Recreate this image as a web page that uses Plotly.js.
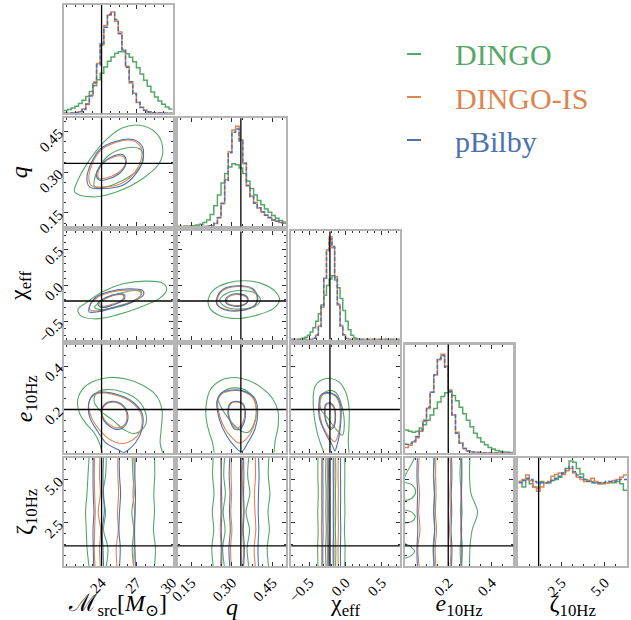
<!DOCTYPE html>
<html><head><meta charset="utf-8">
<script src="https://cdn.plot.ly/plotly-3.0.1.min.js"></script>
<style>html,body{margin:0;padding:0;background:#fff}#chart{width:631px;height:620px}</style>
</head><body><div id="chart"></div>
<script>
// ---------------- parameters ----------------
const paramLabels = ['ℳ<sub>src</sub>[<i>M</i><sub>⊙</sub>]', '<i>q</i>', 'χ<sub>eff</sub>', '<i>e</i><sub>10Hz</sub>', 'ζ<sub>10Hz</sub>'];
const paramRanges = [[20.8, 30.05], [0.1, 0.5], [-0.75, 0.75], [0, 0.5], [0, 6.2832]];
const truthValues = [24.0, 0.333, -0.215, 0.2, 1.17];
const tickVals = [[24, 27, 30], [0.15, 0.30, 0.45], [-0.5, 0, 0.5], [0.2, 0.4], [2.5, 5.0]];
const tickText = [['24', '27', '30'], ['0.15', '0.30', '0.45'], ['−0.5', '0.0', '0.5'], ['0.2', '0.4'], ['2.5', '5.0']];
const minorStep = [0.75, 0.0375, 0.1, 0.05, 0.625];
const seriesNames = ['DINGO', 'DINGO-IS', 'pBilby'];
const seriesColors = ['#55a868', '#dd8452', '#4c72b0'];

// ---------------- 1D histograms (relative heights) ----------------
const histMc_DINGO = [0.025,0.035,0.048,0.065,0.09,0.12,0.155,0.20,0.254,0.31,0.37,0.426,0.48,0.52,0.553,0.568,0.568,0.55,0.518,0.475,0.42,0.363,0.304,0.248,0.196,0.15,0.112,0.082,0.057,0.039];
const histMc_DINGOIS = [0,0,0.002,0.006,0.014,0.038,0.08,0.165,0.275,0.46,0.63,0.81,0.905,0.935,0.85,0.75,0.58,0.435,0.28,0.185,0.098,0.056,0.025,0.013,0.005,0.002,0.001,0,0,0];
const histMc_pBilby = [0,0,0.001,0.005,0.016,0.035,0.085,0.158,0.285,0.445,0.645,0.795,0.915,0.925,0.865,0.735,0.59,0.425,0.29,0.178,0.102,0.052,0.027,0.011,0.005,0.002,0.001,0,0,0];

const histQ_DINGO = [0,0,0.002,0.004,0.007,0.012,0.02,0.035,0.06,0.11,0.19,0.29,0.4,0.49,0.55,0.58,0.57,0.54,0.49,0.42,0.35,0.29,0.24,0.2,0.16,0.13,0.1,0.075,0.055,0.04];
const histQ_DINGOIS = [0,0,0,0,0,0,0,0,0.001,0.007,0.026,0.083,0.21,0.43,0.69,0.89,0.925,0.8,0.58,0.38,0.28,0.22,0.17,0.135,0.105,0.08,0.062,0.048,0.036,0.028];
const histQ_pBilby = [0,0,0,0,0,0,0,0,0.001,0.006,0.028,0.08,0.215,0.425,0.68,0.87,0.9,0.79,0.585,0.375,0.275,0.215,0.172,0.132,0.104,0.082,0.06,0.047,0.037,0.027];

const histChi_DINGO = [0,0,0,0.005,0.012,0.022,0.04,0.07,0.11,0.17,0.24,0.32,0.41,0.5,0.56,0.59,0.55,0.48,0.38,0.27,0.17,0.09,0.04,0.015,0.005,0,0,0,0,0,0,0,0,0,0,0,0,0,0,0];
const histChi_DINGOIS = [0,0,0,0,0,0,0,0.002,0.01,0.04,0.125,0.3,0.57,0.83,0.95,0.85,0.58,0.32,0.13,0.044,0.011,0.002,0,0,0,0,0,0,0,0,0,0,0,0,0,0,0,0,0,0];
const histChi_pBilby = [0,0,0,0,0,0,0,0.002,0.012,0.042,0.12,0.31,0.56,0.82,0.93,0.86,0.57,0.33,0.125,0.045,0.01,0.002,0,0,0,0,0,0,0,0,0,0,0,0,0,0,0,0,0,0];

const histE_DINGO = [0.21,0.2,0.19,0.2,0.23,0.26,0.3,0.35,0.41,0.47,0.52,0.555,0.56,0.53,0.48,0.42,0.36,0.3,0.24,0.18,0.14,0.1,0.075,0.05,0.034,0.022,0.014,0.008,0.005,0.003];
const histE_DINGOIS = [0.05,0.07,0.10,0.14,0.2,0.29,0.41,0.56,0.72,0.86,0.91,0.8,0.58,0.35,0.19,0.09,0.04,0.018,0.008,0.004,0.002,0.001,0,0,0,0,0,0,0,0];
const histE_pBilby = [0.08,0.085,0.11,0.15,0.21,0.3,0.42,0.56,0.72,0.87,0.9,0.79,0.57,0.35,0.18,0.09,0.04,0.017,0.008,0.004,0.002,0.001,0,0,0,0,0,0,0,0];

const histZeta_DINGO = [0.78,0.73,0.8,0.76,0.73,0.72,0.78,0.77,0.77,0.79,0.8,0.82,0.86,0.9,0.97,0.96,0.9,0.85,0.8,0.79,0.78,0.77,0.76,0.76,0.77,0.77,0.77,0.78,0.76,0.7];
const histZeta_DINGOIS = [0.78,0.8,0.84,0.79,0.73,0.69,0.73,0.77,0.78,0.83,0.845,0.86,0.845,0.88,0.9,0.86,0.82,0.8,0.78,0.79,0.81,0.78,0.76,0.77,0.77,0.78,0.79,0.8,0.82,0.84];
const histZeta_pBilby = [0.77,0.79,0.81,0.8,0.78,0.77,0.77,0.77,0.77,0.79,0.81,0.83,0.86,0.9,0.92,0.87,0.84,0.82,0.8,0.78,0.77,0.77,0.77,0.77,0.78,0.78,0.78,0.79,0.8,0.8];

// ---------------- 2D contours: [x values], [y values] (outer ≈ 86%, inner ≈ 39%) ----------------
// Mc vs q
const McQ_DINGO_out = [[21.71,23.27,25.25,27.51,28.93,29.21,28.64,27.23,25.81,24.40,22.98,21.99],[0.227,0.209,0.227,0.277,0.334,0.39,0.446,0.474,0.465,0.421,0.346,0.271]];
const McQ_DINGO_in = [[23.35,23.83,24.68,26.10,27.23,27.57,27.09,25.81,24.12,23.41],[0.261,0.321,0.365,0.39,0.387,0.352,0.309,0.271,0.244,0.246]];
const McQ_DINGOIS_out = [[22.93,23.83,25.25,26.67,27.37,27.37,26.81,25.67,24.12,23.12],[0.29,0.377,0.411,0.417,0.39,0.346,0.299,0.259,0.246,0.252]];
const McQ_DINGOIS_in = [[23.69,24.12,24.96,25.81,26.04,25.53,24.54,23.78],[0.296,0.334,0.356,0.359,0.334,0.302,0.281,0.277]];
const McQ_pBilby_out = [[22.76,23.83,25.25,26.67,27.46,27.51,26.95,25.81,24.12,22.98],[0.284,0.384,0.415,0.421,0.396,0.346,0.296,0.252,0.24,0.246]];
const McQ_pBilby_in = [[23.55,23.97,24.96,25.81,26.10,25.67,24.68,23.83],[0.29,0.327,0.359,0.365,0.34,0.302,0.277,0.271]];
// Mc vs chi_eff
const McChi_DINGO_out = [[21.99,22.70,24.12,25.81,27.8,29.21,29.55,28.93,27.23,25.25,23.55,22.28],[-0.331,-0.238,-0.084,0.024,0.061,0.033,-0.061,-0.178,-0.304,-0.411,-0.462,-0.425]];
const McChi_DINGO_in = [[23.41,24.40,25.81,27.09,27.37,26.67,25.25,23.83],[-0.303,-0.177,-0.098,-0.07,-0.117,-0.224,-0.303,-0.331]];
const McChi_DINGOIS_out = [[22.98,23.55,24.68,26.38,27.37,27.37,26.52,24.96,23.69,23.04],[-0.294,-0.177,-0.098,-0.061,-0.079,-0.135,-0.224,-0.303,-0.35,-0.341]];
const McChi_DINGOIS_in = [[23.83,24.54,25.39,25.87,25.76,24.96,24.06],[-0.238,-0.163,-0.126,-0.14,-0.2,-0.257,-0.285]];
const McChi_pBilby_out = [[22.94,23.41,24.68,26.38,27.51,27.57,26.67,25.11,23.69,22.93],[-0.303,-0.177,-0.084,-0.046,-0.07,-0.13,-0.224,-0.303,-0.364,-0.364]];
const McChi_pBilby_in = [[23.69,24.40,25.39,25.96,25.87,24.96,23.97],[-0.247,-0.163,-0.117,-0.131,-0.2,-0.271,-0.303]];
// Mc vs e
const McE_DINGO_out = [[24.06,23.83,23.41,22.56,22.08,21.99,22.56,23.55,24.68,26.10,27.51,28.64,29.15,29.07,28.99,29.21],[0.0,0.043,0.089,0.143,0.189,0.251,0.304,0.335,0.348,0.341,0.312,0.266,0.197,0.105,0.043,0.0]];
const McE_DINGO_in = [[23.35,23.69,24.40,25.81,27.09,27.80,27.66,26.81,25.96,24.96,23.83],[0.243,0.281,0.292,0.281,0.243,0.174,0.12,0.089,0.105,0.151,0.197]];
const McE_DINGOIS_out = [[22.93,23.49,24.17,25.53,26.61,27.37,27.37,26.81,25.81,24.82,23.97,23.12],[0.235,0.271,0.277,0.261,0.231,0.178,0.112,0.066,0.043,0.058,0.097,0.166]];
const McE_DINGOIS_in = [[24.03,24.34,25.02,25.81,26.15,25.98,25.39,24.74,24.23],[0.189,0.223,0.234,0.215,0.174,0.132,0.115,0.128,0.154]];
const McE_pBilby_out = [[22.94,23.41,24.12,25.53,26.67,27.46,27.46,26.95,26.24,25.87,25.39,24.40,23.69,22.98],[0.235,0.274,0.281,0.266,0.235,0.181,0.112,0.051,0.012,0.001,0.015,0.045,0.097,0.166]];
const McE_pBilby_in = [[23.97,24.26,24.96,25.81,26.24,26.04,25.39,24.68,24.17],[0.189,0.224,0.238,0.22,0.174,0.128,0.108,0.123,0.151]];
// q vs chi_eff
const QChi_DINGO_out = [[0.2125,0.233,0.282,0.343,0.405,0.46,0.4755,0.4535,0.392,0.319,0.252,0.219],[-0.2,-0.06,0.033,0.066,0.033,-0.084,-0.2,-0.317,-0.411,-0.458,-0.411,-0.317]];
const QChi_DINGO_in = [[0.2553,0.282,0.331,0.386,0.405,0.386,0.331,0.276],[-0.2,-0.107,-0.07,-0.107,-0.2,-0.285,-0.327,-0.294]];
const QChi_DINGOIS_out = [[0.2456,0.2664,0.319,0.3716,0.392,0.384,0.331,0.2725,0.248],[-0.2,-0.07,-0.014,-0.047,-0.154,-0.271,-0.341,-0.327,-0.266]];
const QChi_DINGOIS_in = [[0.28,0.298,0.3275,0.353,0.356,0.335,0.3,0.282],[-0.2,-0.14,-0.126,-0.163,-0.224,-0.271,-0.271,-0.243]];
const QChi_pBilby_out = [[0.243,0.264,0.319,0.374,0.395,0.386,0.331,0.27,0.246],[-0.2,-0.06,-0.004,-0.037,-0.154,-0.271,-0.35,-0.332,-0.271]];
const QChi_pBilby_in = [[0.276,0.2945,0.325,0.356,0.358,0.337,0.3,0.28],[-0.2,-0.13,-0.116,-0.154,-0.224,-0.28,-0.28,-0.247]];
// q vs e
const QE_DINGO_out = [[0.235,0.228,0.215,0.205,0.205,0.22,0.26,0.31,0.36,0.41,0.45,0.47,0.47,0.46,0.455],[0.0,0.05,0.1,0.16,0.22,0.29,0.335,0.348,0.335,0.3,0.25,0.19,0.12,0.06,0.0]];
const QE_DINGO_in = [[0.25,0.27,0.31,0.35,0.38,0.39,0.38,0.36,0.335,0.3,0.265],[0.25,0.285,0.3,0.29,0.25,0.19,0.13,0.095,0.1,0.14,0.2]];
const QE_DINGOIS_out = [[0.248,0.263,0.3,0.343,0.38,0.39,0.378,0.35,0.325,0.3,0.275,0.255],[0.24,0.272,0.287,0.282,0.248,0.18,0.115,0.06,0.045,0.07,0.11,0.17]];
const QE_DINGOIS_in = [[0.288,0.297,0.315,0.338,0.347,0.342,0.328,0.31,0.296],[0.2,0.228,0.235,0.226,0.19,0.145,0.118,0.118,0.145]];
const QE_pBilby_out = [[0.245,0.26,0.3,0.345,0.385,0.395,0.385,0.36,0.335,0.31,0.28,0.255],[0.24,0.275,0.29,0.285,0.25,0.18,0.11,0.05,0.005,0.03,0.08,0.15]];
const QE_pBilby_in = [[0.285,0.295,0.315,0.34,0.35,0.345,0.33,0.31,0.295],[0.2,0.23,0.238,0.228,0.19,0.14,0.11,0.11,0.14]];
// chi_eff vs e
const ChiE_DINGO_out = [[-0.298,-0.399,-0.446,-0.413,-0.321,-0.206,-0.09,0.002,0.048,0.048,0.039,0.048],[0.0,0.105,0.258,0.312,0.338,0.343,0.328,0.281,0.212,0.12,0.058,0.0]];
const ChiE_DINGO_in = [[-0.335,-0.344,-0.252,-0.137,-0.067,-0.021,-0.021,-0.044,-0.137,-0.252],[0.197,0.251,0.286,0.28,0.235,0.166,0.104,0.081,0.112,0.163]];
const ChiE_DINGOIS_out = [[-0.358,-0.335,-0.252,-0.145,-0.081,-0.076,-0.104,-0.145,-0.183,-0.275,-0.349],[0.228,0.263,0.274,0.263,0.22,0.135,0.081,0.051,0.058,0.097,0.163]];
const ChiE_DINGOIS_in = [[-0.279,-0.266,-0.215,-0.169,-0.145,-0.169,-0.206,-0.247,-0.275],[0.197,0.221,0.226,0.212,0.166,0.124,0.115,0.132,0.163]];
const ChiE_pBilby_out = [[-0.367,-0.344,-0.252,-0.137,-0.067,-0.067,-0.09,-0.123,-0.145,-0.183,-0.275,-0.358],[0.228,0.266,0.278,0.266,0.22,0.135,0.074,0.028,0.009,0.035,0.089,0.158]];
const ChiE_pBilby_in = [[-0.289,-0.275,-0.215,-0.16,-0.137,-0.16,-0.206,-0.252,-0.284],[0.197,0.224,0.231,0.215,0.166,0.12,0.108,0.128,0.163]];

// zeta row: contour boundaries are near-vertical bands; x values sampled at these zeta values
const zetaRows = [0, 1.05, 2.09, 3.14, 4.19, 5.24, 6.28];
const McZeta_DINGO = [[22.93,22.76,22.70,22.64,22.76,22.84,22.93],[28.51,28.59,28.42,28.51,28.45,28.53,28.51],[24.40,24.54,24.17,24.34,24.12,24.34,24.40],[26.72,26.61,26.74,26.58,26.78,26.67,26.61]];
const McZeta_DINGOIS = [[23.44,23.38,23.41,23.46,23.41,23.38,23.41],[26.72,26.78,26.74,26.81,26.67,26.78,26.74],[23.89,23.83,23.92,23.72,23.89,23.83,23.86],[25.31,25.25,25.42,25.36,25.45,25.39,25.39]];
const McZeta_pBilby = [[23.32,23.29,23.27,23.35,23.29,23.27,23.29],[26.89,26.84,26.81,26.86,26.89,26.84,26.86],[24.17,24.12,24.06,24.23,24.17,24.12,24.17],[25.53,25.59,25.48,25.53,25.62,25.53,25.5]];
const QZeta_DINGO = [[0.231,0.226,0.233,0.228,0.234,0.229,0.231],[0.435,0.43,0.438,0.433,0.44,0.434,0.436],[0.272,0.266,0.275,0.268,0.276,0.27,0.273],[0.362,0.356,0.365,0.352,0.366,0.358,0.362]];
const QZeta_DINGOIS = [[0.258,0.26,0.257,0.259,0.258,0.26,0.258],[0.386,0.382,0.388,0.385,0.383,0.387,0.386],[0.298,0.295,0.3,0.296,0.299,0.297,0.298],[0.34,0.343,0.339,0.342,0.34,0.338,0.341]];
const QZeta_pBilby = [[0.262,0.263,0.261,0.263,0.262,0.261,0.262],[0.398,0.396,0.399,0.397,0.398,0.4,0.398],[0.292,0.289,0.294,0.291,0.293,0.29,0.292],[0.343,0.346,0.342,0.345,0.343,0.344,0.343]];
const ChiZeta_DINGO = [[-0.38,-0.385,-0.378,-0.383,-0.376,-0.382,-0.38],[-0.011,-0.006,-0.014,-0.008,-0.012,-0.009,-0.011],[-0.27,-0.275,-0.266,-0.272,-0.268,-0.274,-0.27],[-0.137,-0.133,-0.14,-0.135,-0.139,-0.134,-0.137]];
const ChiZeta_DINGOIS = [[-0.33,-0.328,-0.332,-0.329,-0.331,-0.33,-0.33],[-0.1,-0.103,-0.098,-0.101,-0.099,-0.102,-0.1],[-0.252,-0.25,-0.254,-0.251,-0.253,-0.25,-0.252],[-0.16,-0.158,-0.162,-0.159,-0.161,-0.158,-0.16]];
const ChiZeta_pBilby = [[-0.312,-0.314,-0.31,-0.313,-0.311,-0.313,-0.312],[-0.068,-0.07,-0.066,-0.069,-0.067,-0.069,-0.068],[-0.238,-0.236,-0.24,-0.237,-0.239,-0.236,-0.238],[-0.169,-0.171,-0.167,-0.17,-0.168,-0.17,-0.169]];
const EZeta_DINGO = [[0.298,0.3,0.31,0.335,0.305,0.298,0.3],[0.135,0.13,0.138,0.133,0.137,0.132,0.135],[0.258,0.255,0.262,0.256,0.26,0.254,0.258]];
const EZeta_DINGOIS = [[0.066,0.06,0.07,0.064,0.068,0.062,0.066],[0.259,0.262,0.257,0.26,0.258,0.261,0.259],[0.143,0.14,0.146,0.141,0.144,0.142,0.143],[0.209,0.212,0.206,0.21,0.208,0.211,0.209]];
const EZeta_pBilby = [[0.058,0.056,0.06,0.057,0.059,0.056,0.058],[0.262,0.264,0.26,0.263,0.261,0.263,0.262],[0.135,0.133,0.137,0.134,0.136,0.133,0.135],[0.215,0.217,0.213,0.216,0.214,0.217,0.215]];
// small DINGO islands at the e = 0 edge
const EZeta_DINGO_islands = [
  [[0.045,0.03,0.012,0.0],[6.28,5.9,5.5,5.2]],
  [[0,0.035,0.05,0.035,0],[4.85,4.7,4.35,3.95,3.8]],
  [[0,0.035,0.048,0.035,0],[3.25,3.1,2.85,2.6,2.5]],
  [[0,0.03,0.045,0.03,0],[1.3,1.1,0.85,0.6,0.45]]
];

// ---------------- layout geometry ----------------
const W = 631, H = 620, ML = 64, MR = 4, MT = 5, MB = 54, GAP = 5;
const PW = W - ML - MR, PH = H - MT - MB;
const cw = (PW - 4 * GAP) / 5, ch = (PH - 4 * GAP) / 5;
const xdom = c => [c * (cw + GAP) / PW, (c * (cw + GAP) + cw) / PW];
const ydom = r => [1 - (r * (ch + GAP) + ch) / PH, 1 - r * (ch + GAP) / PH];
const px2x = p => (p - ML) / PW;
const px2y = p => 1 - (p - MT) / PH;

const panelIndex = {};
let kk = 0;
for (let r = 0; r < 5; r++) for (let c = 0; c <= r; c++) { kk++; panelIndex[r + ',' + c] = kk; }
const sfx = k => (k === 1 ? '' : String(k));

const traces = [];
const shapes = [];
function addHist(r, vals, color, dash) {
  const k = panelIndex[r + ',' + r], rg = paramRanges[r], n = vals.length, w = (rg[1] - rg[0]) / n;
  const x = [], y = [];
  for (let i = 0; i <= n; i++) { x.push(rg[0] + i * w); y.push(vals[Math.min(i, n - 1)]); }
  traces.push({type: 'scatter', mode: 'lines', x, y, xaxis: 'x' + sfx(k), yaxis: 'y' + sfx(k),
    line: {color, width: 1.5, shape: 'hv', dash: dash || 'solid'}, hoverinfo: 'skip', showlegend: false});
}
function addCurve(r, c, pts, color, closed) {
  const k = panelIndex[r + ',' + c];
  const x = pts[0].slice(), y = pts[1].slice();
  if (closed) { x.push(x[0]); y.push(y[0]); }
  traces.push({type: 'scatter', mode: 'lines', x, y, xaxis: 'x' + sfx(k), yaxis: 'y' + sfx(k),
    line: {color, width: 1.1, shape: 'spline', smoothing: 1}, hoverinfo: 'skip', showlegend: false});
}
function addZetaLines(c, sets, color) {
  sets.forEach(xs => addCurve(4, c, [xs, zetaRows], color, false));
}

// diagonal histograms
const histSets = [
  [histMc_DINGO, histMc_DINGOIS, histMc_pBilby],
  [histQ_DINGO, histQ_DINGOIS, histQ_pBilby],
  [histChi_DINGO, histChi_DINGOIS, histChi_pBilby],
  [histE_DINGO, histE_DINGOIS, histE_pBilby],
  [histZeta_DINGO, histZeta_DINGOIS, histZeta_pBilby]
];
histSets.forEach((set, r) => {
  addHist(r, set[0], seriesColors[0]);
  addHist(r, set[1], seriesColors[1]);
  addHist(r, set[2], seriesColors[2], '4px,2px');
});

// 2D contours
const contourPanels = [
  [1, 0, [McQ_DINGO_out, McQ_DINGO_in], [McQ_DINGOIS_out, McQ_DINGOIS_in], [McQ_pBilby_out, McQ_pBilby_in], true],
  [2, 0, [McChi_DINGO_out, McChi_DINGO_in], [McChi_DINGOIS_out, McChi_DINGOIS_in], [McChi_pBilby_out, McChi_pBilby_in], true],
  [3, 0, [McE_DINGO_out, McE_DINGO_in], [McE_DINGOIS_out, McE_DINGOIS_in], [McE_pBilby_out, McE_pBilby_in], false],
  [2, 1, [QChi_DINGO_out, QChi_DINGO_in], [QChi_DINGOIS_out, QChi_DINGOIS_in], [QChi_pBilby_out, QChi_pBilby_in], true],
  [3, 1, [QE_DINGO_out, QE_DINGO_in], [QE_DINGOIS_out, QE_DINGOIS_in], [QE_pBilby_out, QE_pBilby_in], false],
  [3, 2, [ChiE_DINGO_out, ChiE_DINGO_in], [ChiE_DINGOIS_out, ChiE_DINGOIS_in], [ChiE_pBilby_out, ChiE_pBilby_in], false]
];
contourPanels.forEach(([r, c, g, o, b, greenOuterClosed]) => {
  addCurve(r, c, g[0], seriesColors[0], greenOuterClosed);
  addCurve(r, c, g[1], seriesColors[0], true);
  addCurve(r, c, o[0], seriesColors[1], true);
  addCurve(r, c, o[1], seriesColors[1], true);
  addCurve(r, c, b[0], seriesColors[2], true);
  addCurve(r, c, b[1], seriesColors[2], true);
});
addZetaLines(0, McZeta_DINGO, seriesColors[0]);
addZetaLines(0, McZeta_DINGOIS, seriesColors[1]);
addZetaLines(0, McZeta_pBilby, seriesColors[2]);
addZetaLines(1, QZeta_DINGO, seriesColors[0]);
addZetaLines(1, QZeta_DINGOIS, seriesColors[1]);
addZetaLines(1, QZeta_pBilby, seriesColors[2]);
addZetaLines(2, ChiZeta_DINGO, seriesColors[0]);
addZetaLines(2, ChiZeta_DINGOIS, seriesColors[1]);
addZetaLines(2, ChiZeta_pBilby, seriesColors[2]);
addZetaLines(3, EZeta_DINGO, seriesColors[0]);
EZeta_DINGO_islands.forEach(p => addCurve(4, 3, p, seriesColors[0], false));
addZetaLines(3, EZeta_DINGOIS, seriesColors[1]);
addZetaLines(3, EZeta_pBilby, seriesColors[2]);

// ---------------- axes ----------------
const serif = 'Liberation Serif, DejaVu Serif, serif';
const layout = {
  width: W, height: H, autosize: false,
  margin: {l: ML, r: MR, t: MT, b: MB, pad: 0},
  paper_bgcolor: '#fff', plot_bgcolor: '#fff',
  showlegend: false, font: {family: serif, color: '#000'},
  shapes, annotations: []
};
for (let r = 0; r < 5; r++) for (let c = 0; c <= r; c++) {
  const k = panelIndex[r + ',' + c];
  const base = {showline: true, linecolor: '#b5b5b5', linewidth: 2.2, showgrid: false, zeroline: false,
    ticks: 'inside', ticklen: 4, tickwidth: 1, tickcolor: '#333', mirror: 'ticks',
    tickfont: {family: serif, size: 15, color: '#000'}, tickangle: -45, fixedrange: true};
  const xa = Object.assign({}, base, {
    domain: xdom(c), range: paramRanges[c], anchor: 'y' + sfx(k),
    tickmode: 'array', tickvals: tickVals[c], ticktext: tickText[c], showticklabels: r === 4,
    minor: {ticks: 'inside', ticklen: 2, tickcolor: '#333', tickmode: 'linear', tick0: tickVals[c][0], dtick: minorStep[c]}
  });
  if (r === 4) xa.title = {text: paramLabels[c], font: {family: serif, size: 24, color: '#000'}, standoff: 2};
  layout['xaxis' + sfx(k)] = xa;
  let ya;
  if (r === c) {
    ya = Object.assign({}, base, {domain: ydom(r), range: [0, 1], anchor: 'x' + sfx(k), ticks: '', mirror: true, showticklabels: false});
  } else {
    ya = Object.assign({}, base, {
      domain: ydom(r), range: paramRanges[r], anchor: 'x' + sfx(k),
      tickmode: 'array', tickvals: tickVals[r], ticktext: tickText[r], showticklabels: c === 0,
      minor: {ticks: 'inside', ticklen: 2, tickcolor: '#333', tickmode: 'linear', tick0: tickVals[r][0], dtick: minorStep[r]}
    });
    if (c === 0) ya.title = {text: paramLabels[r], font: {family: serif, size: 24, color: '#000'}, standoff: 2};
  }
  layout['yaxis' + sfx(k)] = ya;
  // truth lines
  shapes.push({type: 'line', xref: 'x' + sfx(k), yref: 'y' + sfx(k) + ' domain', x0: truthValues[c], x1: truthValues[c], y0: 0, y1: 1, line: {color: '#000', width: 1.3}});
  if (r !== c) shapes.push({type: 'line', xref: 'x' + sfx(k) + ' domain', yref: 'y' + sfx(k), x0: 0, x1: 1, y0: truthValues[r], y1: truthValues[r], line: {color: '#000', width: 1.3}});
}

// legend (text + short dashes)
const legendRowsPx = [54, 97, 140];
seriesNames.forEach((name, i) => {
  shapes.push({type: 'line', xref: 'paper', yref: 'paper', x0: px2x(407), x1: px2x(421), y0: px2y(legendRowsPx[i]), y1: px2y(legendRowsPx[i]), line: {color: seriesColors[i], width: 2}});
  layout.annotations.push({xref: 'paper', yref: 'paper', x: px2x(453), y: px2y(legendRowsPx[i] + 1), xanchor: 'left', yanchor: 'middle', showarrow: false,
    text: name, font: {family: serif, size: 30, color: seriesColors[i]}});
});

Plotly.newPlot('chart', traces, layout, {displayModeBar: false, staticPlot: true});
</script></body></html>
